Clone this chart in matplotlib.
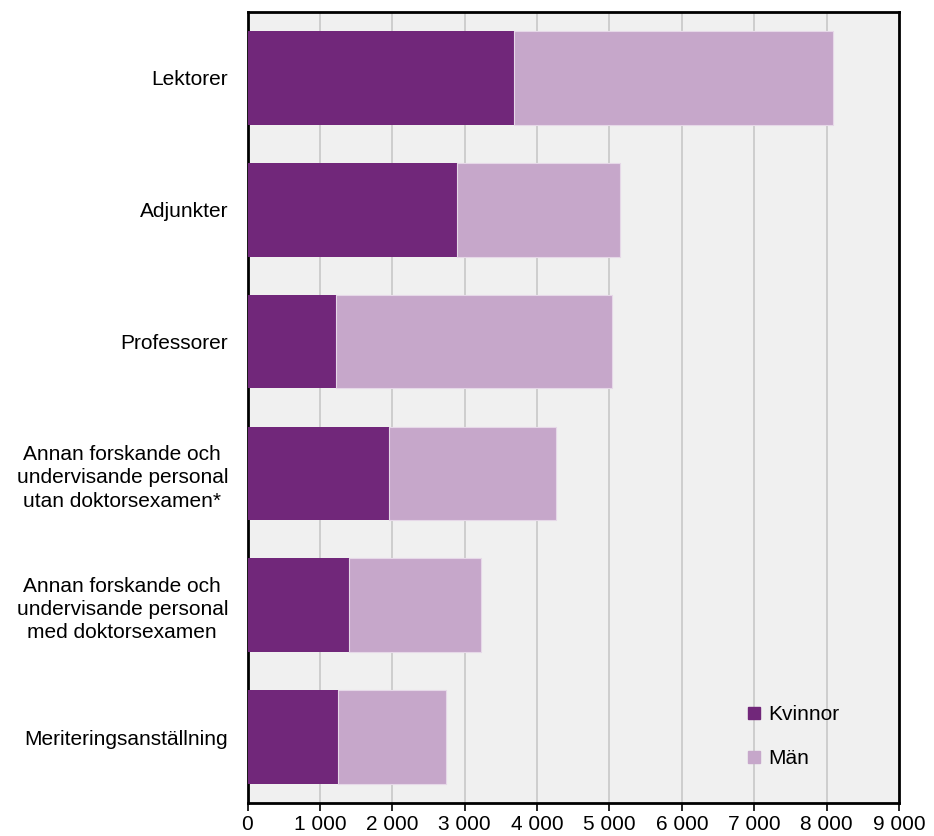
import matplotlib
matplotlib.use("Agg")
import matplotlib.pyplot as plt
from matplotlib.ticker import FuncFormatter
from matplotlib.lines import Line2D

plt.rcParams['font.family'] = ['Liberation Sans', 'DejaVu Sans']

categories = ["Lektorer", "Adjunkter", "Professorer",
              "Annan forskande och\nundervisande personal\nutan doktorsexamen*",
              "Annan forskande och\nundervisande personal\nmed doktorsexamen",
              "Meriteringsanställning"]
kvinnor = [3675, 2900, 1220, 1950, 1400, 1250]
totals = [8090, 5150, 5030, 4255, 3225, 2740]
man = [t - k for t, k in zip(totals, kvinnor)]
xticks = [0, 1000, 2000, 3000, 4000, 5000, 6000, 7000, 8000, 9000]

c_k = "#71277a"
c_m = "#c6a7ca"
fs = 15

fig = plt.figure(figsize=(9.34, 8.36), dpi=100)
ax = fig.add_axes([247.5/934, 1 - 803/836, (899-247.5)/934, (803-12)/836])
ax.set_facecolor("#f0f0f0")

y = list(range(len(categories)))
ax.barh(y, kvinnor, height=0.71, color=c_k, zorder=3)
ax.barh(y, man, left=kvinnor, height=0.71, color=c_m, edgecolor="#e6d8e8", linewidth=0.8, zorder=3)

ax.set_ylim(len(categories) - 0.5, -0.5)
ax.set_yticks(y)
ax.set_yticklabels(categories, fontsize=fs, ha="right", multialignment="center", linespacing=1.3)
ax.tick_params(axis='y', length=0, pad=14)
ax.set_xlim(0, 9000)
ax.set_xticks(xticks)
ax.xaxis.set_major_formatter(FuncFormatter(lambda v, p: f"{int(v):,}".replace(",", " ")))
ax.tick_params(axis='x', length=6, width=1.2, labelsize=fs, pad=3)
ax.grid(axis='x', color="#c8c8c8", linewidth=1.2, zorder=0)
for s in ax.spines.values():
    s.set_linewidth(2)
    s.set_color("black")

handles = [Line2D([], [], marker='s', linestyle='none', markersize=9, color=c_k),
           Line2D([], [], marker='s', linestyle='none', markersize=9, color=c_m)]
ax.legend(handles, ["Kvinnor", "Män"], loc="lower left", bbox_to_anchor=(0.732, 0.02),
          frameon=False, fontsize=fs, labelspacing=1.2, handletextpad=0.2, handlelength=1.0)

fig.savefig("out.png", dpi=100)
